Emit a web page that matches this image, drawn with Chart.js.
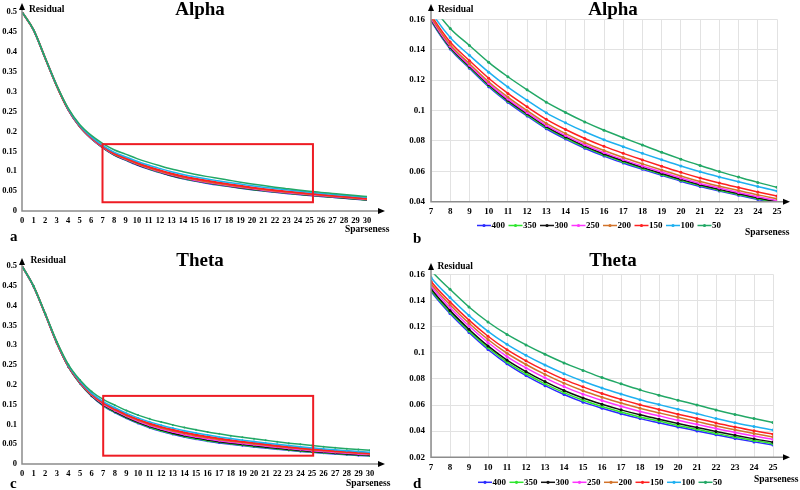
<!DOCTYPE html>
<html>
<head>
<meta charset="utf-8">
<script src="https://cdn.jsdelivr.net/npm/chart.js@4.4.1/dist/chart.umd.min.js"></script>
<style>
  body { margin: 0; background: #fff; width: 800px; height: 490px; overflow: hidden; position: relative; }
  canvas { position: absolute; }
</style>
</head>
<body>
<canvas id="pa" width="400" height="245" style="left:0;top:0"></canvas>
<canvas id="pb" width="400" height="245" style="left:400px;top:0"></canvas>
<canvas id="pc" width="400" height="245" style="left:0;top:245px"></canvas>
<canvas id="pd" width="400" height="245" style="left:400px;top:245px"></canvas>
<script>
// sparseness values (x axis)
const sparseness = [0,1,2,3,4,5,6,7,8,9,10,11,12,13,14,15,16,17,18,19,20,21,22,23,24,25,26,27,28,29,30];
const seriesLabels = ["400", "350", "300", "250", "200", "150", "100", "50"];
const seriesColors = ["#2b2bff", "#2ee62e", "#111111", "#ff33ff", "#d2732a", "#ff2020", "#1eb0f0", "#22a866"];

// residual, Alpha
const alpha400 = [0.5,0.455,0.385,0.315,0.255,0.212,0.182,0.159,0.1405,0.1278,0.1157,0.1054,0.0964,0.088,0.0812,0.0752,0.07,0.0655,0.0613,0.0573,0.0535,0.05,0.047,0.0442,0.0415,0.039,0.0366,0.0343,0.032,0.0296,0.0273];
const alpha350 = [0.5,0.455,0.385,0.3151,0.2552,0.2123,0.1824,0.1595,0.1411,0.1284,0.1164,0.1061,0.0971,0.0887,0.0819,0.0759,0.0707,0.0662,0.0619,0.0579,0.0541,0.0506,0.0475,0.0447,0.042,0.0395,0.0371,0.0348,0.0324,0.03,0.0277];
const alpha300 = [0.5,0.455,0.385,0.3152,0.2554,0.2126,0.1828,0.16,0.1416,0.129,0.117,0.1067,0.0978,0.0894,0.0826,0.0766,0.0714,0.0669,0.0626,0.0586,0.0547,0.0512,0.0481,0.0453,0.0425,0.04,0.0376,0.0353,0.0329,0.0305,0.0282];
const alpha250 = [0.5,0.455,0.385,0.3153,0.2556,0.2129,0.1832,0.1605,0.1422,0.1297,0.1177,0.1075,0.0986,0.0902,0.0835,0.0775,0.0723,0.0677,0.0635,0.0595,0.0556,0.052,0.049,0.0461,0.0433,0.0407,0.0383,0.0359,0.0336,0.0311,0.0288];
const alpha200 = [0.5,0.455,0.385,0.3155,0.256,0.2135,0.184,0.1615,0.1433,0.1308,0.1189,0.1088,0.0999,0.0915,0.0848,0.0788,0.0737,0.0691,0.0649,0.0608,0.0569,0.0533,0.0502,0.0473,0.0445,0.042,0.0395,0.0371,0.0347,0.0322,0.0298];
const alpha150 = [0.5,0.455,0.3855,0.316,0.2568,0.2145,0.1852,0.163,0.145,0.1328,0.1212,0.1112,0.1024,0.0942,0.0875,0.0816,0.0764,0.0718,0.0675,0.0633,0.0593,0.0556,0.0523,0.0493,0.0464,0.0437,0.0412,0.0388,0.0364,0.0339,0.0315];
const alpha100 = [0.5,0.455,0.3855,0.3165,0.2575,0.2155,0.1868,0.165,0.148,0.1363,0.1252,0.1154,0.1067,0.0985,0.0919,0.086,0.0808,0.0762,0.0718,0.0676,0.0635,0.0597,0.0563,0.0531,0.05,0.047,0.0444,0.0419,0.0394,0.0368,0.0343];
const alpha50  = [0.5,0.4555,0.386,0.317,0.259,0.218,0.1905,0.17,0.154,0.1428,0.1317,0.1222,0.1136,0.1055,0.0987,0.0925,0.087,0.0821,0.0773,0.0725,0.068,0.0638,0.0598,0.0562,0.0527,0.0495,0.0468,0.0442,0.0416,0.0389,0.0363];

// residual, Theta
const theta400 = [0.5,0.448,0.378,0.305,0.245,0.203,0.171,0.147,0.13,0.1155,0.1025,0.0915,0.0825,0.0748,0.068,0.0622,0.0575,0.0533,0.0496,0.0464,0.0432,0.0402,0.0372,0.0344,0.0318,0.0294,0.0272,0.0252,0.0234,0.0217,0.0201];
const theta350 = [0.5,0.448,0.3781,0.3052,0.2454,0.2035,0.1717,0.148,0.1311,0.1167,0.1038,0.0929,0.0839,0.0762,0.0695,0.0637,0.0589,0.0547,0.0509,0.0477,0.0444,0.0414,0.0383,0.0355,0.0329,0.0304,0.0282,0.0262,0.0243,0.0226,0.021];
const theta300 = [0.5,0.4481,0.3783,0.3055,0.2458,0.2042,0.1726,0.1491,0.1324,0.118,0.1052,0.0944,0.0856,0.0779,0.0711,0.0654,0.0606,0.0563,0.0525,0.0491,0.0459,0.0428,0.0397,0.0368,0.0341,0.0316,0.0294,0.0273,0.0254,0.0236,0.022];
const theta250 = [0.5,0.4483,0.3785,0.306,0.2465,0.2053,0.174,0.151,0.1346,0.1204,0.1078,0.0971,0.0884,0.0808,0.0741,0.0683,0.0634,0.059,0.0551,0.0517,0.0483,0.0452,0.042,0.039,0.0363,0.0337,0.0314,0.0292,0.0273,0.0254,0.0237];
const theta200 = [0.5,0.4484,0.3787,0.3064,0.2472,0.2062,0.1753,0.1528,0.1367,0.1225,0.1101,0.0996,0.091,0.0834,0.0767,0.0709,0.066,0.0615,0.0575,0.054,0.0506,0.0473,0.044,0.041,0.0382,0.0356,0.0332,0.031,0.0289,0.027,0.0253];
const theta150 = [0.5,0.4485,0.379,0.3069,0.2479,0.2073,0.1768,0.1547,0.1389,0.1249,0.1126,0.1023,0.0938,0.0863,0.0796,0.0739,0.0688,0.0643,0.0602,0.0565,0.053,0.0497,0.0463,0.0432,0.0403,0.0377,0.0352,0.033,0.0308,0.0289,0.0271];
const theta100 = [0.5,0.4487,0.3793,0.3076,0.249,0.2089,0.1789,0.1576,0.1422,0.1284,0.1164,0.1064,0.098,0.0906,0.084,0.0782,0.073,0.0684,0.0641,0.0603,0.0567,0.0533,0.0497,0.0465,0.0435,0.0408,0.0382,0.0358,0.0336,0.0315,0.0297];
const theta50  = [0.5,0.449,0.38,0.309,0.251,0.212,0.183,0.163,0.1485,0.135,0.1235,0.114,0.106,0.0988,0.0922,0.0865,0.081,0.0762,0.0716,0.0675,0.0637,0.06,0.0562,0.0527,0.0496,0.0466,0.0438,0.0412,0.0388,0.0366,0.0346];

const alphaSeries = [alpha400, alpha350, alpha300, alpha250, alpha200, alpha150, alpha100, alpha50];
const thetaSeries = [theta400, theta350, theta300, theta250, theta200, theta150, theta100, theta50];

// zoom window marked on the full-range plots: [xFrom, xTo, yFrom, yTo]
const zoomBoxA = [7, 25.3, 0.022, 0.168];
const zoomBoxC = [7, 25.1, 0.021, 0.172];

const serif = "'Liberation Serif', 'Times New Roman', serif";
Chart.defaults.font.family = serif;
Chart.defaults.font.weight = "bold";
Chart.defaults.color = "#000";

const decor = {
  id: "decor",
  afterDatasetsDraw(chart, args, o) {
    const { ctx, chartArea: ca, scales: { x, y } } = chart;
    ctx.save();

    if (o.box) {
      const x0 = x.getPixelForValue(o.box[0]), x1 = x.getPixelForValue(o.box[1]);
      const y0 = y.getPixelForValue(o.box[2]), y1 = y.getPixelForValue(o.box[3]);
      ctx.strokeStyle = "#ee1c24";
      ctx.lineWidth = 2;
      ctx.strokeRect(x0, y1, x1 - x0, y0 - y1);
    }

    // axes with arrow heads
    ctx.strokeStyle = "#8c8c8c";
    ctx.lineWidth = 1.5;
    ctx.beginPath();
    ctx.moveTo(ca.left, o.yTop + 5);
    ctx.lineTo(ca.left, ca.bottom);
    ctx.lineTo(o.xRight - 5, ca.bottom);
    ctx.stroke();
    ctx.fillStyle = "#000";
    ctx.beginPath();
    ctx.moveTo(ca.left, o.yTop);
    ctx.lineTo(ca.left - 3, o.yTop + 7);
    ctx.lineTo(ca.left + 3, o.yTop + 7);
    ctx.fill();
    ctx.beginPath();
    ctx.moveTo(o.xRight, ca.bottom);
    ctx.lineTo(o.xRight - 7, ca.bottom - 3);
    ctx.lineTo(o.xRight - 7, ca.bottom + 3);
    ctx.fill();

    // texts
    ctx.textBaseline = "alphabetic";
    ctx.textAlign = "center";
    ctx.font = "bold 19px " + serif;
    ctx.fillText(o.title, o.titleAt[0], o.titleAt[1]);
    ctx.textAlign = "left";
    ctx.font = "bold 9.5px " + serif;
    ctx.fillText("Residual", o.resAt[0], o.resAt[1]);
    ctx.fillText("Sparseness", o.sparAt[0], o.sparAt[1]);
    ctx.font = "bold 15px " + serif;
    ctx.fillText(o.letter, o.letterAt[0], o.letterAt[1]);

    if (o.legend) {
      ctx.font = "bold 9px " + serif;
      ctx.textBaseline = "middle";
      chart.data.datasets.forEach((ds, i) => {
        const lx = o.legend.x + i * o.legend.step, ly = o.legend.y;
        ctx.strokeStyle = ds.borderColor;
        ctx.lineWidth = 1.5;
        ctx.beginPath();
        ctx.moveTo(lx, ly);
        ctx.lineTo(lx + 14, ly);
        ctx.stroke();
        ctx.fillStyle = ds.borderColor;
        ctx.beginPath();
        ctx.arc(lx + 7, ly, 1.6, 0, Math.PI * 2);
        ctx.fill();
        ctx.fillStyle = "#000";
        ctx.fillText(ds.label, lx + 14.5, ly + 0.5);
      });
    }
    ctx.restore();
  }
};

function makePanel(id, series, p) {
  const datasets = series.map((vals, i) => ({
    label: seriesLabels[i],
    data: vals.map((v, k) => ({ x: sparseness[k], y: v })),
    borderColor: seriesColors[i],
    backgroundColor: seriesColors[i],
    borderWidth: p.full && i === 5 ? 2 : 1.5,
    pointRadius: p.pointRadius,
    pointBorderWidth: 0,
    order: seriesLabels.length - i,   // later series drawn on top, like the source
    cubicInterpolationMode: "monotone"
  }));

  new Chart(document.getElementById(id), {
    type: "line",
    data: { datasets },
    options: {
      responsive: false,
      animation: false,
      layout: { padding: p.padding },
      plugins: {
        legend: { display: false },
        tooltip: { enabled: false },
        decor: p.decor
      },
      scales: {
        x: {
          type: "linear",
          min: p.xMin, max: p.xMax,
          grid: { display: !p.full, color: "#e2e2e2", drawTicks: false },
          border: { display: false },
          ticks: { stepSize: 1, autoSkip: false, maxRotation: 0, padding: 5, font: { size: p.full ? 8.5 : 9 } },
          afterFit(s) { s.height = p.xHeight; }
        },
        y: {
          min: p.yMin, max: p.yMax,
          grid: { display: !p.full, color: "#e2e2e2", drawTicks: false },
          border: { display: false },
          ticks: {
            stepSize: p.yStep, padding: p.full ? 5 : 6, font: { size: p.full ? 8.5 : 9 },
            callback: v => String(Number(v.toFixed(3)))
          },
          afterFit(s) { s.width = p.yWidth; }
        }
      }
    },
    plugins: [decor]
  });
}

makePanel("pa", alphaSeries, {
  full: true, xMin: 0, xMax: 30, yMin: 0, yMax: 0.5, yStep: 0.05, pointRadius: 0,
  padding: { left: 2, top: 12, right: 33, bottom: 0 }, yWidth: 20, xHeight: 34,
  decor: { box: zoomBoxA, yTop: 3, xRight: 385, title: "Alpha", titleAt: [200, 15],
           resAt: [29, 12], sparAt: [345, 231.5], letter: "a", letterAt: [10, 240.5] }
});
makePanel("pb", alphaSeries, {
  full: false, xMin: 7, xMax: 25, yMin: 0.04, yMax: 0.16, yStep: 0.02, pointRadius: 1.5,
  padding: { left: 1, top: 19.3, right: 23, bottom: 0 }, yWidth: 30, xHeight: 43.3,
  decor: { yTop: 4, xRight: 390, title: "Alpha", titleAt: [213, 15],
           resAt: [38, 12.3], sparAt: [345, 234.5], letter: "b", letterAt: [13, 243],
           legend: { x: 77, y: 225.5, step: 31.5 } }
});
makePanel("pc", thetaSeries, {
  full: true, xMin: 0, xMax: 30, yMin: 0, yMax: 0.5, yStep: 0.05, pointRadius: 1,
  padding: { left: 2, top: 21, right: 30, bottom: 0 }, yWidth: 20, xHeight: 26,
  decor: { box: zoomBoxC, yTop: 13, xRight: 385, title: "Theta", titleAt: [200, 20.7],
           resAt: [30.5, 18.3], sparAt: [346, 240.5], letter: "c", letterAt: [10, 243] }
});
makePanel("pd", thetaSeries, {
  full: false, xMin: 7, xMax: 25, yMin: 0.02, yMax: 0.16, yStep: 0.02, pointRadius: 1.5,
  padding: { left: 1, top: 29.3, right: 27, bottom: 0 }, yWidth: 30, xHeight: 32.7,
  decor: { yTop: 18, xRight: 390, title: "Theta", titleAt: [213, 20.7],
           resAt: [37.5, 24], sparAt: [354, 236.5], letter: "d", letterAt: [13, 242.5],
           legend: { x: 78, y: 237.3, step: 31.5 } }
});
</script>
</body>
</html>
